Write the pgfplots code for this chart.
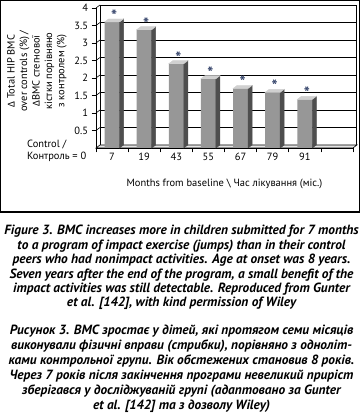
\documentclass[border=0pt]{standalone}
\usepackage{pgfplots}
\pgfplotsset{compat=1.18}
\usepackage{pgfplotstable}
\usepackage{fontspec}
\setmainfont{PT Sans}
\newfontfamily\greekfont{Carlito}
\definecolor{frontc}{HTML}{979797}
\definecolor{sidec}{HTML}{4E4E4E}
\definecolor{topc}{HTML}{D0D0D0}
\definecolor{floorc}{HTML}{E4E4E4}
\definecolor{starc}{HTML}{34436A}
\pgfdeclareplotmark{nothing}{}
\pgfplotstableread{
x v
0 3.60
1 3.38
2 2.41
3 1.98
4 1.70
5 1.59
6 1.39
}\bardata
\begin{document}
\begin{tikzpicture}
\path[use as bounding box] (0bp,0bp) rectangle (363bp,413bp);
\draw[line width=1.1bp] (0.6bp,201bp) rectangle (359.4bp,412.4bp);
% back wall
\begin{axis}[at={(100bp,268bp)}, anchor=south west, scale only axis,
  width=256bp, height=140bp, xmin=-0.5, xmax=7.5, ymin=0, ymax=4,
  axis line style={draw=none}, major tick length=0pt,
  xtick=\empty, ytick={0.5,1,...,4}, yticklabels={},
  ymajorgrids, grid style={black, line width=0.9bp}, clip=false]
\draw[black, line width=0.8bp] (rel axis cs:0,0) -- (rel axis cs:0,1);
\draw[black, line width=0.8bp] (rel axis cs:1,0) -- (rel axis cs:1,1);
\end{axis}
% front
\begin{axis}[at={(96bp,265bp)}, anchor=south west, scale only axis,
  width=257bp, height=140bp, xmin=-0.5, xmax=7.5, ymin=0, ymax=4,
  axis x line*=bottom, axis y line*=left,
  axis line style={black, line width=0.8bp},
  tick align=outside, major tick length=4.5bp,
  tick style={black, line width=0.6bp},
  ytick={0.5,1,...,4},
  xtick={-0.5,0.5,...,7.5}, xticklabels={},
  extra x ticks={0,1,2,3,4,5,6},
  extra x tick labels={7,19,43,55,67,79,91},
  extra x tick style={major tick length=0pt},
  /pgf/number format/assume math mode=true,
  ticklabel style={font=\fontsize{10.5}{12}\selectfont},
  xticklabel style={yshift=-2bp},
  clip=false]
\filldraw[fill=floorc, draw=black, line width=0.6bp] (axis cs:-0.5,0) -- (axis cs:7.5,0) -- ++(4bp,3bp) -- ++(-257bp,0bp) -- cycle;
\pgfplotsinvokeforeach{0.5,1,1.5,2,2.5,3,3.5,4}{\draw[line width=0.6bp] (axis cs:-0.5,#1) -- ++(4bp,3bp);}
\addplot[ybar, bar width=15bp, fill=frontc, draw=none] table[x=x,y=v]{\bardata};
\addplot[scatter, only marks, mark=nothing,
  visualization depends on={y \as \val},
  scatter/@pre marker code/.code={%
    \pgfmathsetmacro\hb{-\val*35}%
    \pgfmathsetmacro\hc{3-\val*35}%
    \fill[sidec] (7.5bp,0bp) -- (11.5bp,3bp) -- (11.5bp,\hc bp) -- (7.5bp,\hb bp) -- cycle;
    \fill[topc] (-7.5bp,0bp) -- (7.5bp,0bp) -- (11.5bp,3bp) -- (-3.5bp,3bp) -- cycle;
  },
  scatter/@post marker code/.code={}]
  table[x=x,y=v]{\bardata};
\addplot[only marks, mark=nothing, nodes near coords={*},
  nodes near coords style={font=\fontsize{16}{16}\selectfont\bfseries, text=starc, anchor=base, inner sep=0pt, xshift=2bp, yshift=0.5bp}]
  table[x=x,y=v]{\bardata};
\node[font=\fontsize{10.5}{12}\selectfont] at (rel axis cs:0.5,0) [yshift=-36bp] {Months from baseline \textbackslash\ Час лікування (міс.)};
\end{axis}
\node[anchor=west, font=\fontsize{10.5}{12}\selectfont, inner sep=0pt] at (27bp,268bp) {Control /};
\node[anchor=west, font=\fontsize{10.5}{12}\selectfont, inner sep=0pt] at (27bp,256bp) {Контроль = 0};
\node[rotate=90, align=center, font=\fontsize{10.5}{12.5}\selectfont] at (37bp,342bp)
  {{\greekfont Δ} Total HIP BMC\\over controls (\%) /\\{\greekfont Δ}BMC стегнової\\кістки порівняно\\з контролем (\%)};
% captions
\begin{scope}[every node/.style={anchor=base, inner sep=0pt, font=\fontsize{13.4}{15}\selectfont\bfseries\itshape}]
\node at (181.5bp,178bp) {Figure 3. BMC increases more in children submitted for 7 months};
\node at (181.5bp,163.6bp) {to a program of impact exercise (jumps) than in their control};
\node at (181.5bp,149.2bp) {peers who had nonimpact activities. Age at onset was 8 years.};
\node at (181.5bp,134.8bp) {Seven years after the end of the program, a small benefit of the};
\node at (181.5bp,120.4bp) {impact activities was still detectable. Reproduced from Gunter};
\node at (181.5bp,106bp) {et al. [142], with kind permission of Wiley};
\node at (181.5bp,78bp) {Рисунок 3. ВМС зростає у дітей, які протягом семи місяців};
\node at (181.5bp,63.2bp) {виконували фізичні вправи (стрибки), порівняно з одноліт-};
\node at (181.5bp,48.4bp) {ками контрольної групи. Вік обстежених становив 8 років.};
\node at (181.5bp,33.6bp) {Через 7 років після закінчення програми невеликий приріст};
\node at (181.5bp,18.8bp) {зберігався у досліджуваній групі (адаптовано за Gunter};
\node at (181.5bp,4bp) {et al. [142] та з дозволу Wiley)};
\end{scope}
\end{tikzpicture}
\end{document}
